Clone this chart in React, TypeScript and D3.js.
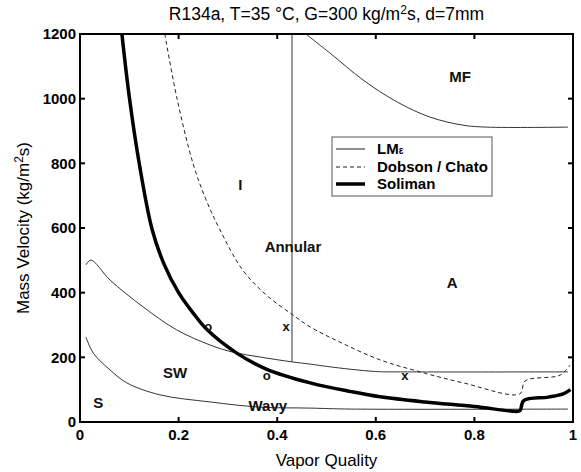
import React from 'react';
import * as d3 from 'd3';

type Pt = [number, number];

// boundary curves (vapor quality, mass velocity)
const solimanLine: Pt[] = [
  [0.085, 1200], [0.1, 1005], [0.12, 801], [0.146, 597], [0.17, 490], [0.2, 400],
  [0.23, 336], [0.258, 285], [0.318, 213], [0.379, 163], [0.467, 121], [0.55, 94],
  [0.609, 78], [0.7, 62], [0.8, 48], [0.888, 33], [0.893, 36], [0.9, 66], [0.95, 77],
  [0.98, 87], [0.995, 100],
];
const dobsonLine: Pt[] = [
  [0.172, 1200], [0.196, 1006], [0.229, 801], [0.255, 690], [0.284, 594], [0.33, 470],
  [0.38, 390], [0.432, 331], [0.467, 294], [0.53, 245], [0.609, 192], [0.69, 155],
  [0.78, 120], [0.892, 87], [0.903, 127], [0.974, 145], [0.994, 176],
];
const lmVertical: Pt[] = [[0.43, 1200], [0.43, 186]];
const lmMist: Pt[] = [
  [0.458, 1200], [0.507, 1141], [0.574, 1058], [0.643, 990], [0.71, 943], [0.777, 918],
  [0.825, 912], [0.99, 912],
];
const lmWavy: Pt[] = [
  [0.012, 486], [0.022, 501], [0.061, 439], [0.128, 356], [0.196, 285], [0.264, 238],
  [0.31, 216], [0.365, 201], [0.43, 186], [0.467, 179], [0.5, 172], [0.55, 163],
  [0.6, 156], [0.65, 155], [0.99, 155],
];
const lmStrat: Pt[] = [
  [0.012, 263], [0.027, 213], [0.061, 161], [0.095, 121], [0.162, 84], [0.264, 62],
  [0.365, 46], [0.467, 43], [0.55, 40], [0.99, 40],
];

const regionLabels = ['MF', 'I', 'Annular', 'A', 'SW', 'S', 'Wavy'];
const regionPos: Pt[] = [[0.771, 1067], [0.325, 733], [0.432, 541], [0.755, 430], [0.193, 152], [0.037, 59], [0.381, 49]];
const markerLabels = ['o', 'x', 'o', 'x'];
const markerPos: Pt[] = [[0.26, 294], [0.418, 294], [0.379, 145], [0.659, 145]];

const xTicks = [0, 0.2, 0.4, 0.6, 0.8, 1];
const xTickLabels = ['0', '0.2', '0.4', '0.6', '0.8', '1'];
const yTicks = [0, 200, 400, 600, 800, 1000, 1200];

const W = 581;
const H = 472;
const m = { left: 80, right: 8, top: 34, bottom: 50 };

export default function App() {
  const x = d3.scaleLinear().domain([0, 1]).range([m.left, W - m.right]);
  const y = d3.scaleLinear().domain([0, 1200]).range([H - m.bottom, m.top]);
  const line = d3
    .line<Pt>()
    .x((d) => x(d[0]))
    .y((d) => y(d[1]))
    .curve(d3.curveCatmullRom.alpha(0.5));

  const font = 'Liberation Sans, Arial, Helvetica, sans-serif';
  const x0 = x(0), x1 = x(1), y0 = y(0), y1 = y(1200);

  return (
    <div style={{ position: 'absolute', left: 0, top: 0 }}>
      <svg width={W} height={H} style={{ display: 'block', background: '#fff' }} fontFamily={font}>
        <defs>
          <clipPath id="plot">
            <rect x={x0} y={y1} width={x1 - x0} height={y0 - y1} />
          </clipPath>
        </defs>

        <g clipPath="url(#plot)" fill="none">
          <path d={line(lmVertical) || ''} stroke="#333" strokeWidth={1} />
          <path d={line(lmMist) || ''} stroke="#333" strokeWidth={1} />
          <path d={line(lmWavy) || ''} stroke="#333" strokeWidth={1} />
          <path d={line(lmStrat) || ''} stroke="#333" strokeWidth={1} />
          <path d={line(dobsonLine) || ''} stroke="#222" strokeWidth={1} strokeDasharray="4,3" />
          <path d={line(solimanLine) || ''} stroke="#000" strokeWidth={3.5} />
        </g>

        {regionLabels.map((t, i) => (
          <text key={t} x={x(regionPos[i][0])} y={y(regionPos[i][1])} dy="0.35em"
            textAnchor="middle" fontSize={15} fontWeight="bold" fill="#111">{t}</text>
        ))}
        {markerLabels.map((t, i) => (
          <text key={i} x={x(markerPos[i][0])} y={y(markerPos[i][1])} dy="0.35em"
            textAnchor="middle" fontSize={13} fontWeight="bold" fill="#111">{t}</text>
        ))}

        {/* frame and ticks */}
        <rect x={x0} y={y1} width={x1 - x0} height={y0 - y1} fill="none" stroke="#000" strokeWidth={2} />
        {xTicks.map((t, i) => (
          <g key={'x' + t}>
            <line x1={x(t)} x2={x(t)} y1={y0} y2={y0 - 5} stroke="#000" strokeWidth={2} />
            <line x1={x(t)} x2={x(t)} y1={y1} y2={y1 + 5} stroke="#000" strokeWidth={2} />
            <text x={x(t)} y={y0 + 18} textAnchor="middle" fontSize={15} fontWeight="bold">{xTickLabels[i]}</text>
          </g>
        ))}
        {yTicks.map((t) => (
          <g key={'y' + t}>
            <line x1={x0} x2={x0 + 5} y1={y(t)} y2={y(t)} stroke="#000" strokeWidth={2} />
            <line x1={x1} x2={x1 - 5} y1={y(t)} y2={y(t)} stroke="#000" strokeWidth={2} />
            <text x={x0 - 4} y={y(t)} dy="0.35em" textAnchor="end" fontSize={15} fontWeight="bold">{t}</text>
          </g>
        ))}

        {/* legend */}
        <g transform="translate(332,137)">
          <rect width={160} height={59} fill="#fff" stroke="#555" strokeWidth={1} />
          <line x1={4} x2={33} y1={12} y2={12} stroke="#222" strokeWidth={1} />
          <line x1={4} x2={33} y1={30} y2={30} stroke="#222" strokeWidth={1} strokeDasharray="4,3" />
          <line x1={4} x2={33} y1={47} y2={47} stroke="#000" strokeWidth={3.5} />
          <text x={45} y={12} dy="0.35em" fontSize={15} fontWeight="bold">LM<tspan fontSize={10}>ε</tspan></text>
          <text x={45} y={30} dy="0.35em" fontSize={15} fontWeight="bold">Dobson / Chato</text>
          <text x={45} y={47} dy="0.35em" fontSize={15} fontWeight="bold">Soliman</text>
        </g>

        {/* titles */}
        <text x={(x0 + x1) / 2} y={20} textAnchor="middle" fontSize={17.5}>
          R134a, T=35 °C, G=300 kg/m<tspan dy={-6} fontSize={12}>2</tspan><tspan dy={6}>s, d=7mm</tspan>
        </text>
        <text x={(x0 + x1) / 2} y={466} textAnchor="middle" fontSize={17}>Vapor Quality</text>
        <text transform={`translate(29,${(y0 + y1) / 2}) rotate(-90)`} textAnchor="middle" fontSize={17}>
          Mass Velocity (kg/m<tspan dy={-6} fontSize={12}>2</tspan><tspan dy={6}>s)</tspan>
        </text>
      </svg>
    </div>
  );
}
